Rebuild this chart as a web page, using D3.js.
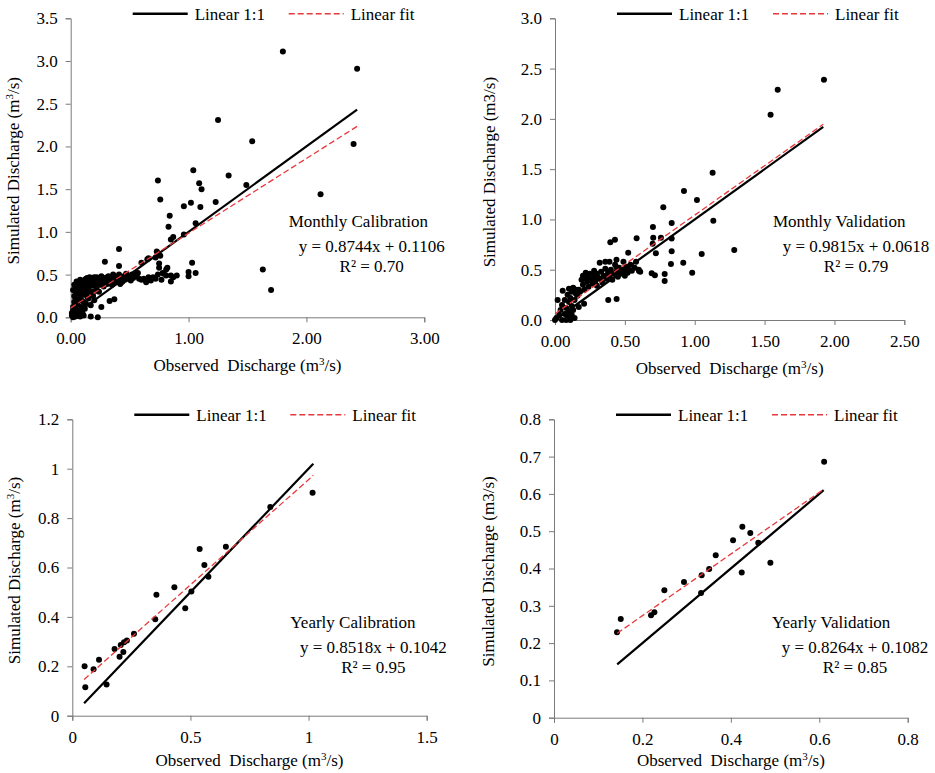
<!DOCTYPE html>
<html>
<head>
<meta charset="utf-8">
<script src="https://cdn.jsdelivr.net/npm/d3@7"></script>
<style>
  body { margin: 0; background: #fff; }
  svg { display: block; }
  svg text { font-family: "Liberation Serif", "DejaVu Serif", serif; fill: #000; }
</style>
</head>
<body>
<svg id="chart" width="935" height="773"></svg>
<script>
// ---- data: [observed, simulated] ----
var monthlyCalibration = [
  [1.80,3.11],[2.43,2.91],[1.25,2.31],[1.54,2.06],[2.40,2.03],[1.04,1.72],[0.74,1.60],[1.09,1.57],
  [1.34,1.66],[1.11,1.50],[1.49,1.55],[2.12,1.44],[0.76,1.38],[1.23,1.35],[1.02,1.34],[0.96,1.30],
  [1.10,1.29],[0.84,1.19],[1.06,1.10],[0.83,1.06],[0.87,0.94],[0.85,0.91],[0.96,0.97],[0.41,0.80],
  [0.73,0.77],[0.76,0.72],[0.29,0.65],[0.41,0.60],[1.63,0.56],[1.70,0.32],[1.03,0.64],[1.06,0.52],
  [1.00,0.53],[1.00,0.48],[0.90,0.49],[0.85,0.42],[0.85,0.49],[0.81,0.56],[0.75,0.58],[0.78,0.52],
  [0.74,0.50],[0.70,0.47],[0.60,0.64],[0.65,0.68],[0.72,0.70],[0.75,0.63],[0.82,0.58],[0.79,0.51],
  [0.87,0.47],[0.66,0.69],[0.74,0.75],[0.64,0.41],[0.60,0.44],[0.57,0.52],
  [0.11,0.02],[0.17,0.01],[0.23,0.00],[0.26,0.12],[0.33,0.19],[0.37,0.21],
  [0.01,0.02],[0.01,0.05],[0.02,0.00],[0.02,0.08],[0.02,0.12],[0.03,0.03],[0.03,0.18],[0.03,0.25],
  [0.04,0.01],[0.04,0.10],[0.04,0.30],[0.05,0.36],[0.05,0.06],[0.05,0.20],[0.06,0.02],[0.06,0.15],
  [0.06,0.28],[0.07,0.34],[0.07,0.40],[0.07,0.08],[0.08,0.22],[0.08,0.01],[0.08,0.30],[0.09,0.38],
  [0.09,0.12],[0.10,0.26],[0.10,0.42],[0.10,0.05],[0.11,0.33],[0.11,0.18],[0.12,0.44],[0.12,0.38],
  [0.12,0.10],[0.13,0.28],[0.13,0.41],[0.14,0.46],[0.14,0.35],[0.15,0.22],[0.15,0.42],[0.16,0.40],
  [0.16,0.30],[0.17,0.45],[0.17,0.14],[0.18,0.37],[0.18,0.43],[0.19,0.25],[0.19,0.46],[0.20,0.40],
  [0.20,0.20],[0.21,0.44],[0.22,0.35],[0.22,0.47],[0.23,0.42],[0.24,0.30],[0.25,0.45],[0.25,0.38],
  [0.26,0.48],[0.27,0.41],[0.28,0.36],[0.29,0.46],[0.30,0.43],[0.31,0.39],[0.32,0.48],[0.33,0.42],
  [0.34,0.45],[0.35,0.38],[0.36,0.50],[0.37,0.44],[0.38,0.41],[0.39,0.47],[0.40,0.43],[0.41,0.50],
  [0.42,0.39],[0.43,0.46],[0.44,0.42],[0.45,0.48],[0.46,0.44],[0.47,0.51],[0.48,0.45],[0.50,0.47],
  [0.51,0.43],[0.52,0.50],[0.53,0.46],[0.55,0.52],[0.56,0.48],[0.58,0.45],[0.62,0.45],[0.66,0.47],
  [0.68,0.43],[0.72,0.45],[0.77,0.44],[0.81,0.49],[0.15,0.33],[0.21,0.31],[0.09,0.20],[0.13,0.16],
  [0.02,0.32],[0.03,0.38],[0.04,0.22],[0.05,0.42],[0.06,0.33],[0.08,0.44],[0.09,0.28],[0.11,0.40],
  [0.13,0.45],[0.14,0.24],[0.16,0.47],[0.18,0.30],[0.20,0.47],[0.23,0.46],[0.24,0.40],[0.27,0.46],
  [0.29,0.40],[0.31,0.47],[0.34,0.40],[0.37,0.48],[0.39,0.42],[0.43,0.41],[0.45,0.45],[0.49,0.49]
];
var monthlyValidation = [
  [1.925,2.39],[1.594,2.29],[1.543,2.04],[1.128,1.465],[0.923,1.283],[1.016,1.193],[0.775,1.12],
  [1.133,0.988],[0.835,0.965],[0.701,0.925],[0.584,0.812],[0.703,0.818],[0.758,0.818],[0.835,0.81],
  [0.835,0.683],[0.699,0.759],[0.722,0.663],[1.05,0.656],[1.283,0.696],[0.396,0.772],[0.429,0.798],
  [0.524,0.669],[0.83,0.557],[0.918,0.570],[0.982,0.470],[0.785,0.457],[0.785,0.388],[0.692,0.464],
  [0.715,0.444],[0.381,0.199],[0.441,0.209],[0.208,0.162],[0.601,0.487],[0.441,0.524],[0.019,0.199],
  [0.055,0.291],
  [0.00,0.00],[0.01,0.02],[0.03,0.05],[0.04,0.10],[0.05,0.00],[0.05,0.15],[0.07,0.20],[0.07,0.06],
  [0.08,0.12],[0.08,0.00],[0.09,0.03],[0.09,0.25],[0.10,0.18],[0.10,0.08],[0.10,0.31],[0.11,0.00],
  [0.11,0.22],[0.12,0.05],[0.12,0.14],[0.12,0.28],[0.13,0.10],[0.13,0.32],[0.14,0.20],[0.14,0.02],
  [0.15,0.26],[0.15,0.30],[0.16,0.24],[0.17,0.13],[0.17,0.30],[0.18,0.28],[0.19,0.40],[0.20,0.35],
  [0.20,0.44],[0.21,0.30],[0.22,0.41],[0.22,0.47],[0.23,0.38],[0.24,0.43],[0.24,0.33],[0.25,0.46],
  [0.26,0.40],[0.27,0.36],[0.28,0.44],[0.28,0.49],[0.29,0.39],[0.30,0.34],[0.30,0.46],[0.31,0.42],
  [0.32,0.57],[0.33,0.40],[0.33,0.48],[0.34,0.37],[0.35,0.44],[0.36,0.51],[0.36,0.58],[0.37,0.41],
  [0.38,0.47],[0.39,0.58],[0.39,0.44],[0.40,0.50],[0.41,0.40],[0.42,0.46],[0.43,0.55],[0.44,0.60],
  [0.44,0.48],[0.45,0.43],[0.46,0.52],[0.47,0.46],[0.48,0.50],[0.49,0.58],[0.50,0.44],[0.50,0.48],
  [0.51,0.53],[0.52,0.47],[0.53,0.50],[0.54,0.55],[0.55,0.49],[0.57,0.52],[0.58,0.58],[0.60,0.50],
  [0.61,0.48]
];
var yearlyCalibration = [
  [0.052,0.200],[0.055,0.115],[0.090,0.188],[0.113,0.227],[0.145,0.126],[0.179,0.270],[0.205,0.286],
  [0.200,0.239],[0.216,0.258],[0.219,0.297],[0.231,0.304],[0.261,0.332],[0.351,0.390],[0.356,0.490],
  [0.432,0.520],[0.478,0.435],[0.504,0.503],[0.539,0.675],[0.559,0.610],[0.576,0.563],[0.650,0.684],
  [0.838,0.845],[1.017,0.903]
];
var yearlyValidation = [
  [0.1425,0.229],[0.151,0.2645],[0.2195,0.275],[0.227,0.283],[0.2496,0.342],[0.294,0.364],
  [0.3326,0.334],[0.334,0.3816],[0.351,0.3986],[0.3658,0.4352],[0.405,0.476],[0.4246,0.3896],
  [0.426,0.512],[0.444,0.495],[0.462,0.469],[0.4894,0.4155],[0.611,0.686]
];

var panelTitles = ["Monthly Calibration", "Monthly Validation", "Yearly Calibration", "Yearly Validation"];
var fitSlopes = [0.8744, 0.9815, 0.8518, 0.8264];
var fitIntercepts = [0.1106, 0.0618, 0.1042, 0.1082];
var rSquared = ["0.70", "0.79", "0.95", "0.85"];
var lineExtents = [[0, 2.43], [0, 1.92], [0.05, 1.02], [0.143, 0.61]];
var xTicks = [[0, 1, 2, 3], [0, 0.5, 1, 1.5, 2, 2.5], [0, 0.5, 1, 1.5], [0, 0.2, 0.4, 0.6, 0.8]];
var yTicks = [[0, 0.5, 1, 1.5, 2, 2.5, 3, 3.5], [0, 0.5, 1, 1.5, 2, 2.5, 3],
              [0, 0.2, 0.4, 0.6, 0.8, 1, 1.2], [0, 0.1, 0.2, 0.3, 0.4, 0.5, 0.6, 0.7, 0.8]];

var FONT = "'Liberation Serif','DejaVu Serif',serif";
var svg = d3.select("#chart");
var plain = function (d) { return String(+d.toFixed(2)); };

var panels = [
  { data: monthlyCalibration, x0: 70.7, x1: 424.3, y0: 317.3, y1: 18.3, xfmt: d3.format(".2f"), yfmt: d3.format(".1f"), ySup: true },
  { data: monthlyValidation, x0: 555, x1: 904.3, y0: 320, y1: 18.3, xfmt: d3.format(".2f"), yfmt: d3.format(".1f"), ySup: false },
  { data: yearlyCalibration, x0: 72.3, x1: 426.7, y0: 715.7, y1: 419.3, xfmt: plain, yfmt: plain, ySup: true },
  { data: yearlyValidation, x0: 554, x1: 907.7, y0: 717.7, y1: 419.3, xfmt: plain, yfmt: plain, ySup: false }
];

function unitLabel(sel, sup) {
  sel.append("tspan").text("(m");
  if (sup) {
    sel.append("tspan").attr("baseline-shift", "super").attr("font-size", 11).text("3");
    sel.append("tspan").attr("baseline-shift", "0").text("/s)");
  } else {
    sel.append("tspan").text("3/s)");
  }
}

panels.forEach(function (p, i) {
  var xs = xTicks[i], ys = yTicks[i];
  var x = d3.scaleLinear().domain([0, xs[xs.length - 1]]).range([p.x0, p.x1]);
  var y = d3.scaleLinear().domain([0, ys[ys.length - 1]]).range([p.y0, p.y1]);
  var g = svg.append("g").attr("font-family", FONT);

  // axes
  var xa = g.append("g").attr("transform", "translate(0," + p.y0 + ")")
    .call(d3.axisBottom(x).tickValues(xs).tickFormat(p.xfmt).tickSize(5).tickPadding(4).tickSizeOuter(5));
  var ya = g.append("g").attr("transform", "translate(" + p.x0 + ",0)")
    .call(d3.axisLeft(y).tickValues(ys).tickFormat(p.yfmt).tickSize(5).tickPadding(8).tickSizeOuter(5));
  [xa, ya].forEach(function (a) {
    a.attr("font-family", FONT).attr("font-size", 17);
    a.selectAll("path, line").attr("stroke", "#7a7a7a");
    a.selectAll("text").attr("fill", "#000");
  });
  xa.selectAll("text").attr("dy", "1.05em");

  // points
  g.selectAll(".pt").data(p.data).join("circle")
    .attr("cx", function (d) { return x(d[0]); })
    .attr("cy", function (d) { return y(d[1]); })
    .attr("r", 3)
    .attr("fill", "#000");

  // 1:1 line and fit line
  var ext = lineExtents[i];
  g.append("line")
    .attr("x1", x(ext[0])).attr("y1", y(ext[0]))
    .attr("x2", x(ext[1])).attr("y2", y(ext[1]))
    .attr("stroke", "#000").attr("stroke-width", 2.2);
  g.append("line")
    .attr("x1", x(ext[0])).attr("y1", y(fitSlopes[i] * ext[0] + fitIntercepts[i]))
    .attr("x2", x(ext[1])).attr("y2", y(fitSlopes[i] * ext[1] + fitIntercepts[i]))
    .attr("stroke", "#e8383b").attr("stroke-width", 1.3).attr("stroke-dasharray", "6,3");

  // legend
  var ly = p.y1 - 4.5;
  var lx = p.x0 + 62;
  g.append("line").attr("x1", lx).attr("x2", lx + 55).attr("y1", ly).attr("y2", ly)
    .attr("stroke", "#000").attr("stroke-width", 2.5);
  g.append("text").attr("x", lx + 62).attr("y", ly + 6.5).attr("font-size", 17).text("Linear 1:1");
  g.append("line").attr("x1", lx + 156).attr("x2", lx + 211).attr("y1", ly).attr("y2", ly)
    .attr("stroke", "#e8383b").attr("stroke-width", 1.5).attr("stroke-dasharray", "6,3");
  g.append("text").attr("x", lx + 218).attr("y", ly + 6.5).attr("font-size", 17).text("Linear fit");

  // annotation
  var ax = p.x0 + 218;
  var aby = p.y1 + 208.5;
  g.append("text").attr("x", ax).attr("y", aby).attr("font-size", 17).text(panelTitles[i]);
  g.append("text").attr("x", p.x0 + 301).attr("y", aby + 25).attr("text-anchor", "middle").attr("font-size", 17)
    .text("y = " + fitSlopes[i].toFixed(4) + "x + " + fitIntercepts[i].toFixed(4));
  g.append("text").attr("x", p.x0 + 301).attr("y", aby + 45).attr("text-anchor", "middle").attr("font-size", 17)
    .text("R\u00b2 = " + rSquared[i]);

  // axis titles
  var xt = g.append("text").attr("x", (p.x0 + p.x1) / 2).attr("y", Math.min(p.y0 + 54, 766))
    .attr("text-anchor", "middle").attr("font-size", 17).style("white-space", "pre");
  xt.append("tspan").text("Observed  Discharge ");
  unitLabel(xt, true);
  var yx = i % 2 === 0 ? p.x0 - 52 : p.x0 - 60;
  var yt = g.append("text").attr("transform", "translate(" + yx + "," + ((p.y0 + p.y1) / 2 + 3) + ") rotate(-90)")
    .attr("text-anchor", "middle").attr("font-size", 17);
  yt.append("tspan").text("Simulated Discharge ");
  unitLabel(yt, p.ySup);
});
</script>
</body>
</html>
